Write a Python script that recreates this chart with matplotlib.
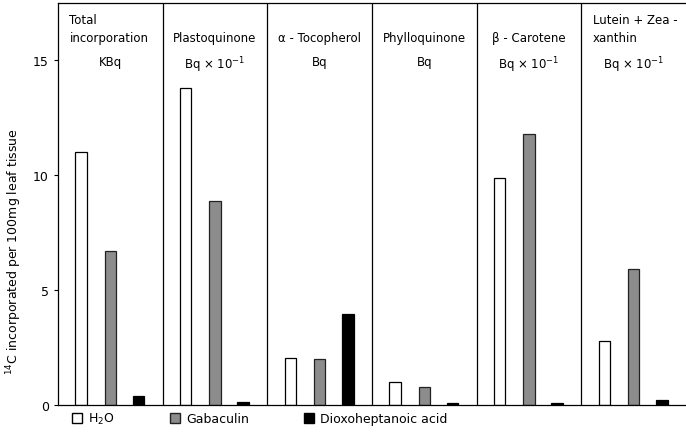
import numpy as np
import matplotlib
matplotlib.use("Agg")
import matplotlib.pyplot as plt
from matplotlib.patches import Patch

# panels (compounds) and their units
panels = ["Total\nincorporation", "Plastoquinone", "\u03b1 - Tocopherol",
          "Phylloquinone", "\u03b2 - Carotene", "Lutein + Zea -\nxanthin"]
units = ["KBq", "Bq \u00d7 10$^{-1}$", "Bq", "Bq", "Bq \u00d7 10$^{-1}$", "Bq \u00d7 10$^{-1}$"]

treatments = ["H$_2$O", "Gabaculin", "Dioxoheptanoic acid"]
h2o = [11.0, 13.8, 2.05, 1.0, 9.9, 2.8]
gabaculin = [6.7, 8.9, 2.0, 0.8, 11.8, 5.9]
dioxo = [0.4, 0.15, 3.95, 0.1, 0.07, 0.2]

plt.rcParams['font.family'] = ['DejaVu Sans']

fig = plt.figure(figsize=(6.86, 4.35), dpi=100)
ax = fig.add_axes([0.0845, 0.0667, 0.9155, 0.924])

x = np.arange(len(panels))
offsets = [0.22, 0.50, 0.77]
w = 0.11
styles = [dict(facecolor="white", edgecolor="black"),
          dict(facecolor="#8c8c8c", edgecolor="#222222"),
          dict(facecolor="black", edgecolor="black")]

for vals, off, st, lab in zip([h2o, gabaculin, dioxo], offsets, styles, treatments):
    ax.bar(x + off, vals, width=w, linewidth=0.9, label=lab, **st)

# panel separators
for i in range(1, len(panels)):
    ax.axvline(i, color="black", linewidth=0.9)

# panel headings
for i, (name, unit) in enumerate(zip(panels, units)):
    if "\n" in name:
        ax.text(i + 0.11, 17.05, name, ha="left", va="top", fontsize=8.5,
                linespacing=1.45)
    else:
        ax.text(i + 0.5, 16.3, name, ha="center", va="top", fontsize=8.5)
    ax.text(i + 0.5, 15.25, unit, ha="center", va="top", fontsize=8.5)

ax.set_xlim(0, len(panels))
ax.set_ylim(0, 17.5)
ax.set_xticks([])
ax.set_yticks([0, 5, 10, 15])
ax.tick_params(axis="y", labelsize=9, length=3, direction="out")
ax.spines["right"].set_visible(False)
for s in ["left", "bottom", "top"]:
    ax.spines[s].set_linewidth(0.9)

ax.set_ylabel("$^{14}$C incorporated per 100mg leaf tissue", fontsize=9)
ax.yaxis.set_label_coords(-0.054, 0.385)

handles = [Patch(label=t, **st) for t, st in zip(treatments, styles)]
ax.legend(handles=handles, ncol=3, frameon=False, fontsize=9,
          loc="upper left", bbox_to_anchor=(0.012, 0.0), borderaxespad=0.1,
          handlelength=0.8, handleheight=0.8, handletextpad=0.5,
          columnspacing=4.4)

fig.savefig("out.png", dpi=100)
